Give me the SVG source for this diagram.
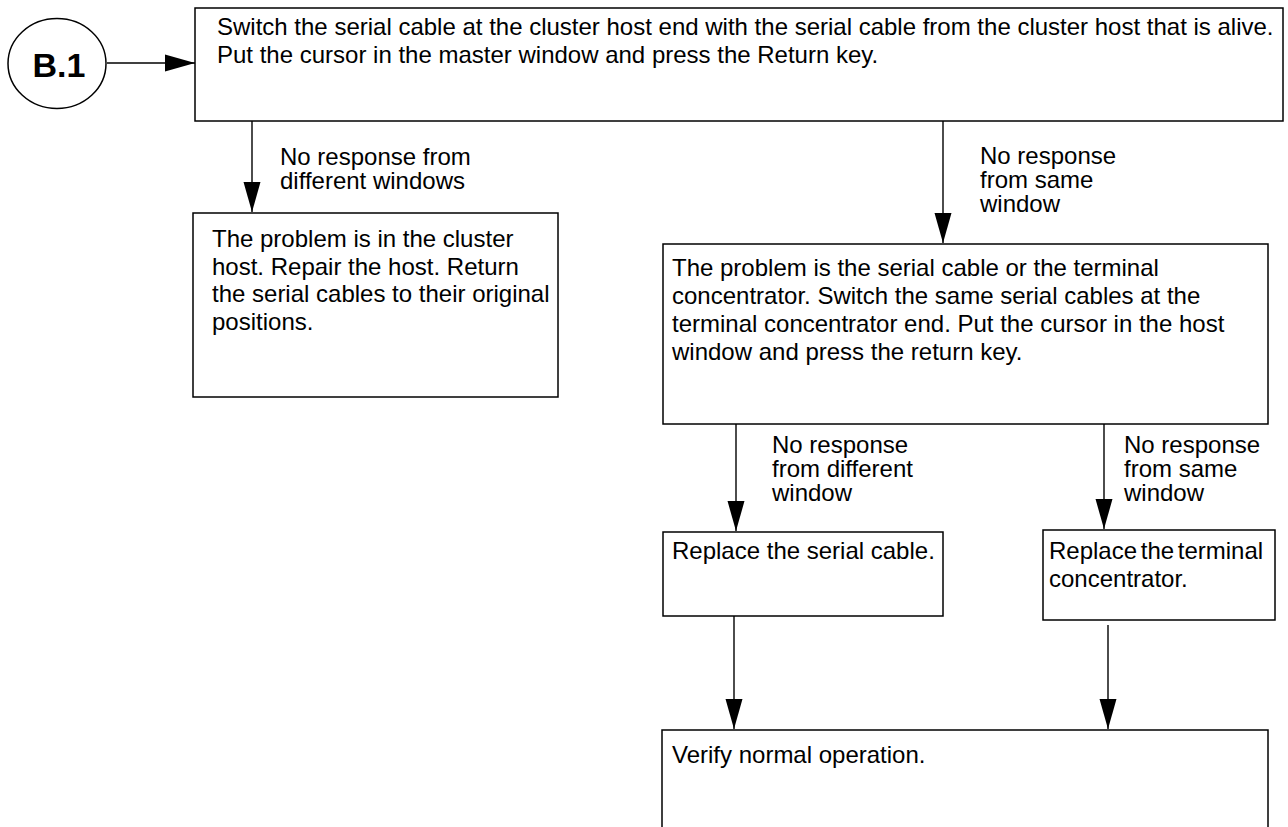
<svg xmlns="http://www.w3.org/2000/svg" width="1288" height="827" viewBox="0 0 1288 827">
  <style>
    .box { fill: #ffffff; stroke: #000000; stroke-width: 1.5; }
    .txt { font-family: "Liberation Sans", Arial, sans-serif; font-size: 24px; fill: #000000; }
    .lbl { font-family: "Liberation Sans", Arial, sans-serif; font-size: 24px; fill: #000000; }
    .conn { stroke: #000000; stroke-width: 1.4; fill: none; marker-end: url(#arrow); }
  </style>
  <defs>
    <marker id="arrow" markerUnits="userSpaceOnUse" markerWidth="30" markerHeight="18" refX="30" refY="9" orient="auto">
      <path d="M0,0.5 L30,9 L0,17.5 z" fill="#000000"/>
    </marker>
  </defs>
  <rect width="1288" height="827" fill="#ffffff"/>

  <!-- connectors -->
  <g id="connectors">
    <line class="conn" x1="107" y1="63" x2="195" y2="63"/>
    <line class="conn" x1="252" y1="121" x2="252" y2="212"/>
    <line class="conn" x1="943" y1="121" x2="943" y2="243"/>
    <line class="conn" x1="736" y1="424" x2="736" y2="531"/>
    <line class="conn" x1="1104" y1="424" x2="1104" y2="529"/>
    <line class="conn" x1="734" y1="616" x2="734" y2="729"/>
    <line class="conn" x1="1108" y1="625" x2="1108" y2="729"/>
    <text class="lbl" x="280" y="165">No response from</text>
    <text class="lbl" x="280" y="189">different windows</text>
    <text class="lbl" x="980" y="164">No response</text>
    <text class="lbl" x="980" y="188">from same</text>
    <text class="lbl" x="980" y="212">window</text>
    <text class="lbl" x="772" y="453">No response</text>
    <text class="lbl" x="772" y="477">from different</text>
    <text class="lbl" x="772" y="501">window</text>
    <text class="lbl" x="1124" y="453">No response</text>
    <text class="lbl" x="1124" y="477">from same</text>
    <text class="lbl" x="1124" y="501">window</text>
  </g>

  <!-- entry point -->
  <g id="start">
    <ellipse cx="57" cy="63.5" rx="49" ry="45" fill="#ffffff" stroke="#000000" stroke-width="1.5"/>
    <text x="59" y="77" text-anchor="middle" font-family="'Liberation Sans', Arial, sans-serif" font-size="34" font-weight="bold">B.1</text>
  </g>

  <g id="switch-host-end">
    <rect class="box" x="195" y="8" width="1088" height="113"/>
    <text class="txt" x="217" y="35">Switch the serial cable at the cluster host end with the serial cable from the cluster host that is alive.</text>
    <text class="txt" x="217" y="63">Put the cursor in the master window and press the Return key.</text>
  </g>

  <g id="host-problem">
    <rect class="box" x="193" y="213" width="365" height="184"/>
    <text class="txt" x="212" y="247">The problem is in the cluster</text>
    <text class="txt" x="212" y="275">host. Repair the host. Return</text>
    <text class="txt" x="212" y="302">the serial cables to their original</text>
    <text class="txt" x="212" y="330">positions.</text>
  </g>

  <g id="cable-or-tc">
    <rect class="box" x="663" y="244" width="605" height="180"/>
    <text class="txt" x="672" y="276">The problem is the serial cable or the terminal</text>
    <text class="txt" x="672" y="304">concentrator. Switch the same serial cables at the</text>
    <text class="txt" x="672" y="332">terminal concentrator end. Put the cursor in the host</text>
    <text class="txt" x="672" y="360">window and press the return key.</text>
  </g>

  <g id="replace-cable">
    <rect class="box" x="663" y="532" width="280" height="84"/>
    <text class="txt" x="672" y="559">Replace the serial cable.</text>
  </g>

  <g id="replace-tc">
    <rect class="box" x="1043" y="530" width="232" height="90"/>
    <text class="txt" x="1049" y="559" word-spacing="-3">Replace the terminal</text>
    <text class="txt" x="1049" y="587">concentrator.</text>
  </g>

  <g id="verify">
    <rect class="box" x="662" y="730" width="606" height="120"/>
    <text class="txt" x="672" y="763">Verify normal operation.</text>
  </g>
</svg>
